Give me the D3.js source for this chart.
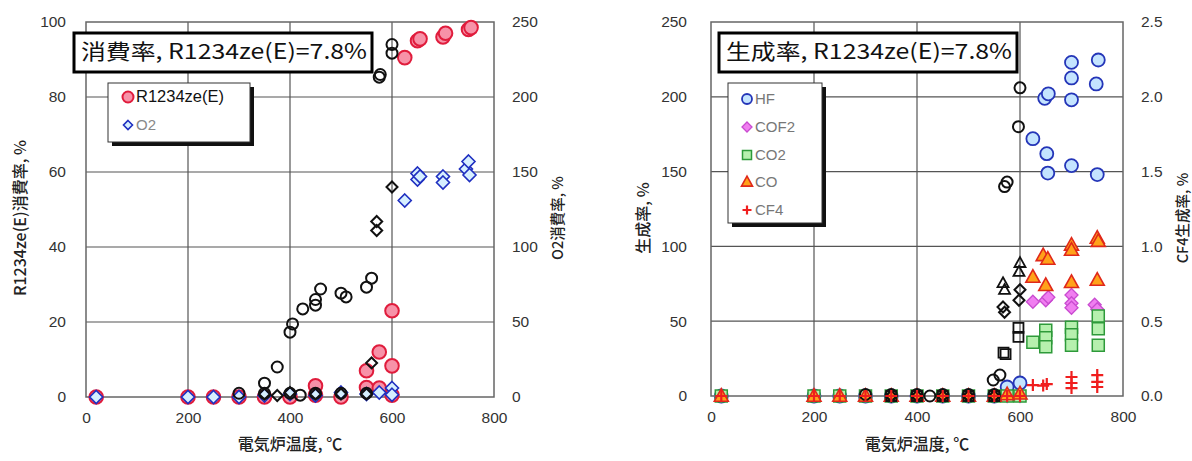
<!DOCTYPE html>
<html><head><meta charset="utf-8">
<script src="https://cdn.jsdelivr.net/npm/d3@7"></script>
<style>
body{margin:0;background:#fff;}
svg{display:block;}
.tick text{font-family:"Liberation Sans",Arial,sans-serif;font-size:15.5px;fill:#333;}
</style></head>
<body><svg id="c" width="1192" height="461"></svg>
<script>
// ---------- data: left chart (consumption) ----------
const xTicks = [0, 200, 400, 600, 800];
const leftYTicks = [0, 20, 40, 60, 80, 100];
const leftY2Ticks = [0, 50, 100, 150, 200, 250];
const rightYTicks = [0, 50, 100, 150, 200, 250];
const rightY2Ticks = [0, 0.5, 1.0, 1.5, 2.0, 2.5];

const r1234Temp = [20, 200, 250, 300, 350, 400, 450, 450, 500, 550, 550, 575, 575, 600, 600, 600, 625, 650, 655, 700, 705, 750, 755];
const r1234Val  = [0, 0, 0, 0, 0, 0, 3, 0.5, 0, 7, 2.5, 12, 2.4, 23, 8.3, 0.5, 90.5, 95, 95.5, 96, 97, 98, 98.5];

const o2Temp = [20, 200, 250, 300, 350, 400, 450, 500, 550, 575, 600, 600, 625, 650, 650, 655, 700, 700, 745, 750, 752];
const o2Val  = [0, 0, 0, 0, 1, 2, 1, 3, 2, 3, 6, 1.5, 131, 149, 145, 147, 147, 143, 152, 157, 148];

const blkR1234Temp = [300, 350, 350, 375, 400, 400, 405, 420, 425, 450, 450, 450, 460, 500, 500, 510, 550, 550, 560, 575, 577, 600, 600];
const blkR1234Val  = [1, 3.7, 1, 8, 17.3, 1, 19.5, 0.5, 23.5, 24.5, 26, 1, 28.8, 27.7, 1, 26.7, 29.3, 1, 31.7, 85.3, 86, 91.7, 94];

const blkO2Temp = [350, 375, 400, 450, 500, 550, 560, 570, 570, 600];
const blkO2Val  = [2, 1, 3, 2, 2, 2, 22.7, 111, 117, 140];

// ---------- data: right chart (formation) ----------
const hfTemp = [20, 200, 250, 300, 350, 400, 450, 500, 550, 575, 600, 625, 648, 655, 652, 654, 700, 700, 700, 700, 752, 748, 750];
const hfVal  = [0, 0, 0, 0, 0, 0, 0, 0, 0, 6, 8.7, 172, 199, 202, 162, 149, 223, 212.6, 198, 154, 224.6, 208.6, 148];

const cof2Temp = [20, 200, 250, 300, 350, 400, 450, 500, 550, 575, 600, 625, 650, 655, 700, 700, 700, 745, 750];
const cof2Val  = [0, 0, 0, 0, 0, 0, 0, 0, 0, 0, 0, 63, 64, 66, 67.5, 62, 59, 61, 58];

const co2Temp = [20, 200, 250, 300, 350, 400, 450, 500, 550, 575, 600, 625, 650, 650, 650, 700, 700, 700, 752, 752, 752];
const co2Val  = [0, 0, 0, 0, 0, 0, 0, 0, 0, 0, 0, 36, 44, 39, 33, 46, 41, 34, 53.5, 45, 34];

const coTemp = [20, 200, 250, 300, 350, 400, 450, 500, 550, 575, 600, 625, 645, 654, 650, 700, 700, 700, 750, 752, 750];
const coVal  = [0, 0, 0, 0, 0, 0, 0, 0, 0, 1, 1.5, 79.5, 94, 91.6, 74, 101, 97.6, 76, 105.6, 103.5, 77.5];

const cf4Temp = [20, 200, 250, 300, 350, 400, 450, 500, 550, 575, 600, 625, 645, 652, 700, 700, 700, 750, 750, 750];
const cf4Val  = [0, 0, 0, 0, 0, 0, 0, 0, 0, 0, 0, 0.073, 0.07, 0.08, 0.127, 0.087, 0.053, 0.14, 0.094, 0.06];

const blkHfTemp = [300, 350, 400, 425, 450, 500, 550, 548, 561, 570, 575, 597, 600];
const blkHfVal  = [1, 1, 1, 0, 1, 1, 1, 10.7, 14, 140, 143, 180, 206];
const blkCof2Temp = [350, 400, 450, 500, 550, 567, 570, 598, 600];
const blkCof2Val  = [0, 0, 0, 0, 0, 59.5, 56, 64, 71];
const blkCo2Temp = [350, 400, 450, 500, 550, 568, 572, 597, 597];
const blkCo2Val  = [0, 0, 0, 0, 0, 29, 28, 45.5, 39.5];
const blkCoTemp = [567, 570, 598, 600];
const blkCoVal  = [75.5, 71, 83, 89];

const leftTitle = "消費率, R1234ze(E)=7.8%";
const rightTitle = "生成率, R1234ze(E)=7.8%";
const xLabel = "電気炉温度, ℃";

// ---------- drawing ----------
const svg = d3.select("#c");
const FONT = '"Liberation Sans",Arial,sans-serif';
const CJK = '"Noto Sans CJK JP",sans-serif';

const shapes = {
  circle: r => `M${r},0A${r},${r} 0 1,1 ${-r},0A${r},${r} 0 1,1 ${r},0Z`,
  diamond: s => `M0,${-s}L${s},0L0,${s}L${-s},0Z`,
  square: s => `M${-s},${-s}H${s}V${s}H${-s}Z`,
  triangle: s => `M0,${-s*1.05}L${s},${s*0.75}L${-s},${s*0.75}Z`,
  cross: s => `M${-s},0H${s}M0,${-s}V${s}`
};

function zip(t, v){ return t.map((d,i)=>({t:d, v:v[i]})); }

function drawPoints(g, data, x, y, st){
  g.append("g").selectAll("path").data(data).join("path")
    .attr("transform", d => `translate(${x(d.t)},${y(d.v)})`)
    .attr("d", shapes[st.shape](st.size))
    .attr("fill", st.fill).attr("stroke", st.stroke).attr("stroke-width", st.sw);
}

function frame(x, y, y2, yTicks, y2Ticks, y2fmt){
  const g = svg.append("g");
  const [x0,x1] = x.range(), [yb,yt] = y.range();
  g.append("g").selectAll("line").data(xTicks.slice(1,-1)).join("line")
    .attr("x1", d=>x(d)).attr("x2", d=>x(d)).attr("y1", yt).attr("y2", yb)
    .attr("stroke","#555").attr("stroke-width",1.2);
  g.append("g").selectAll("line").data(yTicks.slice(1,-1)).join("line")
    .attr("x1", x0).attr("x2", x1).attr("y1", d=>y(d)).attr("y2", d=>y(d))
    .attr("stroke","#555").attr("stroke-width",1.2);
  g.append("rect").attr("x",x0).attr("y",yt).attr("width",x1-x0).attr("height",yb-yt)
    .attr("fill","none").attr("stroke","#666").attr("stroke-width",1.5);
  const ax = g.append("g").attr("transform",`translate(0,${yb})`)
    .call(d3.axisBottom(x).tickValues(xTicks).tickSize(0).tickPadding(15));
  const ay = g.append("g").attr("transform",`translate(${x0},0)`)
    .call(d3.axisLeft(y).tickValues(yTicks).tickSize(0).tickPadding(x0 > 600 ? 24 : 20));
  const ay2 = g.append("g").attr("transform",`translate(${x1},0)`)
    .call(d3.axisRight(y2).tickValues(y2Ticks).tickSize(0).tickPadding(18).tickFormat(y2fmt));
  [ax,ay,ay2].forEach(a=>a.select(".domain").remove());
  return g;
}

function titleBox(x, y, w, h, text){
  svg.append("rect").attr("x",x).attr("y",y).attr("width",w).attr("height",h)
    .attr("fill","#fff").attr("stroke","#000").attr("stroke-width",3);
  svg.append("text").attr("x",x+7).attr("y",y+h/2+1).attr("dominant-baseline","middle")
    .attr("font-family",CJK).attr("font-size",21).attr("fill","#111")
    .attr("textLength", w-12).attr("lengthAdjust","spacingAndGlyphs").text(text);
}

function legend(x, y, w, h, items){
  svg.append("rect").attr("x",x+4).attr("y",y+4).attr("width",w).attr("height",h).attr("fill","#111");
  svg.append("rect").attr("x",x).attr("y",y).attr("width",w).attr("height",h)
    .attr("fill","#fff").attr("stroke","#333").attr("stroke-width",1);
  items.forEach(it=>{
    svg.append("path").attr("transform",`translate(${it.mx},${it.my})`)
      .attr("d", shapes[it.st.shape](it.lsize || it.st.size))
      .attr("fill", it.st.fill).attr("stroke", it.st.stroke).attr("stroke-width", it.st.sw);
    svg.append("text").attr("x", it.mx+8).attr("y", it.my+1).attr("dominant-baseline","middle")
      .attr("font-family", it.font || FONT).attr("font-size", it.fs).attr("fill", it.color).text(it.label);
  });
}

function axisTitles(xc, xLab, yLab, xL, yLab2, xR, yc){
  svg.append("text").attr("x",xc).attr("y",446).attr("text-anchor","middle").attr("dominant-baseline","middle")
    .attr("font-family",CJK).attr("font-size",16).attr("font-weight",500).attr("fill","#222").text(xLab);
  svg.append("text").attr("transform",`translate(${xL},${yc}) rotate(-90)`).attr("text-anchor","middle")
    .attr("dominant-baseline","middle").attr("font-family",CJK).attr("font-size",16).attr("font-weight",500).attr("fill","#222").text(yLab);
  svg.append("text").attr("transform",`translate(${xR},${yc}) rotate(-90)`).attr("text-anchor","middle")
    .attr("dominant-baseline","middle").attr("font-family",CJK).attr("font-size",14.5).attr("font-weight",500).attr("fill","#222").text(yLab2);
}

const stPink = {shape:"circle", size:6.8, fill:"#f792a8", stroke:"#e01c3c", sw:2};
const stBlueD = {shape:"diamond", size:6.5, fill:"#d6efff", stroke:"#1f2fc0", sw:1.6};
const stBlkC = {shape:"circle", size:5.5, fill:"none", stroke:"#111", sw:2};
const stBlkD = {shape:"diamond", size:5.5, fill:"none", stroke:"#111", sw:2};
const stHF = {shape:"circle", size:6.5, fill:"#c4e4ff", stroke:"#2435b8", sw:1.8};
const stCOF2 = {shape:"diamond", size:6.5, fill:"#f07ef0", stroke:"#c94bd0", sw:1.3};
const stCO2 = {shape:"square", size:6, fill:"#b6f0ae", stroke:"#2e9a3a", sw:1.5};
const stCO = {shape:"triangle", size:7, fill:"#ffa21a", stroke:"#e0281a", sw:1.6};
const stCF4 = {shape:"cross", size:6, fill:"none", stroke:"#f01e1e", sw:2.2};
const stBlkS = {shape:"square", size:5, fill:"none", stroke:"#111", sw:1.8};
const stBlkT = {shape:"triangle", size:5.5, fill:"none", stroke:"#111", sw:1.8};

// ---- left chart ----
{
  const x = d3.scaleLinear([0,800],[86,494]);
  const y = d3.scaleLinear([0,100],[397,22]);
  const y2 = d3.scaleLinear([0,250],[397,22]);
  const g = frame(x, y, y2, leftYTicks, leftY2Ticks, d3.format("d"));
  drawPoints(g, zip(r1234Temp, r1234Val), x, y, stPink);
  drawPoints(g, zip(o2Temp, o2Val), x, y2, stBlueD);
  drawPoints(g, zip(blkR1234Temp, blkR1234Val), x, y, stBlkC);
  drawPoints(g, zip(blkO2Temp, blkO2Val), x, y2, stBlkD);
  titleBox(74, 33, 298, 39, leftTitle);
  legend(108, 83, 142, 59, [
    {mx:128, my:97, st:stPink, lsize:5.5, label:"R1234ze(E)", fs:16.5, color:"#111"},
    {mx:128, my:125, st:stBlueD, lsize:4.5, label:"O2", fs:15, color:"#888"}
  ]);
  axisTitles(290, xLabel, "R1234ze(E)消費率, %", 22, "O2消費率, %", 559, 218);
}

// ---- right chart ----
{
  const x = d3.scaleLinear([0,800],[711,1123]);
  const y = d3.scaleLinear([0,250],[396,22]);
  const y2 = d3.scaleLinear([0,2.5],[396,22]);
  const g = frame(x, y, y2, rightYTicks, rightY2Ticks, d3.format(".1f"));
  drawPoints(g, zip(hfTemp, hfVal), x, y, stHF);
  drawPoints(g, zip(cof2Temp, cof2Val), x, y, stCOF2);
  drawPoints(g, zip(co2Temp, co2Val), x, y, stCO2);
  drawPoints(g, zip(coTemp, coVal), x, y, stCO);
  drawPoints(g, zip(blkHfTemp, blkHfVal), x, y, stBlkC);
  drawPoints(g, zip(blkCof2Temp, blkCof2Val), x, y, stBlkD);
  drawPoints(g, zip(blkCo2Temp, blkCo2Val), x, y, stBlkS);
  drawPoints(g, zip(blkCoTemp, blkCoVal), x, y, stBlkT);
  drawPoints(g, zip(cf4Temp, cf4Val), x, y2, stCF4);
  titleBox(719, 33, 298, 39, rightTitle);
  legend(728, 83, 94, 140, [
    {mx:747, my:99, st:stHF, lsize:5, label:"HF", fs:15, color:"#777"},
    {mx:747, my:127, st:stCOF2, lsize:5, label:"COF2", fs:15, color:"#777"},
    {mx:747, my:155, st:stCO2, lsize:4.5, label:"CO2", fs:15, color:"#777"},
    {mx:747, my:182, st:stCO, lsize:5.5, label:"CO", fs:15, color:"#777"},
    {mx:747, my:210, st:stCF4, lsize:4.5, label:"CF4", fs:15, color:"#777"}
  ]);
  axisTitles(917, xLabel, "生成率, %", 645, "CF4生成率, %", 1184, 218);
}
</script></body></html>
